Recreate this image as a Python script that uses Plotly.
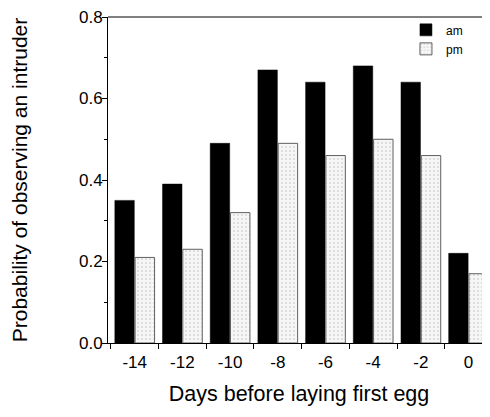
import plotly.graph_objects as go

days = [-14, -12, -10, -8, -6, -4, -2, 0]
am = [0.35, 0.39, 0.49, 0.67, 0.64, 0.68, 0.64, 0.22]
pm = [0.21, 0.23, 0.32, 0.49, 0.46, 0.50, 0.46, 0.17]
y_ticks = [0.0, 0.2, 0.4, 0.6, 0.8]

FONT = "Liberation Sans, Arial, Helvetica, sans-serif"

fig = go.Figure()
fig.add_trace(go.Bar(x=days, y=am, name="am",
                     marker=dict(color="black", line=dict(color="black", width=0.5))))
fig.add_trace(go.Bar(x=days, y=pm, name="pm",
                     marker=dict(color="#f2f2f2", line=dict(color="#606060", width=1),
                                 pattern=dict(shape=".", fgcolor="#b8b8b8", bgcolor="#f6f6f6",
                                              size=4, solidity=0.2))))

fig.update_layout(
    width=482, height=409,
    margin=dict(l=100, r=0, t=9, b=74, pad=0, autoexpand=False),
    paper_bgcolor="white", plot_bgcolor="white",
    barmode="group", bargap=0.15, bargroupgap=0.04,
    font=dict(family=FONT, color="black", size=17),
    legend=dict(x=0.780, y=1.005, xanchor="left", yanchor="top",
                font=dict(size=12), bgcolor="rgba(0,0,0,0)",
                itemwidth=30, tracegroupgap=0),
    shapes=[dict(type="line", xref="paper", yref="paper", x0=0, x1=1, y0=1, y1=1,
                 line=dict(color="black", width=1))],
)
fig.update_xaxes(
    range=[-15.12, 0.9], tickvals=days, ticktext=[str(d) for d in days],
    ticks="", showgrid=False, zeroline=False, automargin=False,
    ticklabeloverflow="allow",
    showline=True, linecolor="black", linewidth=1,
    minor=dict(tick0=-15, dtick=2, ticks="outside", ticklen=5, tickcolor="black", showgrid=False),
    ticklabelstandoff=4,
    title=dict(text="Days before laying first egg", font=dict(size=21.5), standoff=14),
)
fig.update_yaxes(
    range=[0, 0.8], tickvals=y_ticks, ticktext=[f"{v:.1f}" for v in y_ticks],
    ticks="outside", ticklen=5, tickcolor="black", showgrid=False, zeroline=False,
    automargin=False, ticklabelstandoff=-4, ticklabeloverflow="allow",
    showline=True, linecolor="black", linewidth=1,
    minor=dict(dtick=0.1, ticks="outside", ticklen=3, tickcolor="black", showgrid=False),
    title=dict(text="Probability of observing an intruder", font=dict(size=21), standoff=47),
)

fig.write_html("out.html")
